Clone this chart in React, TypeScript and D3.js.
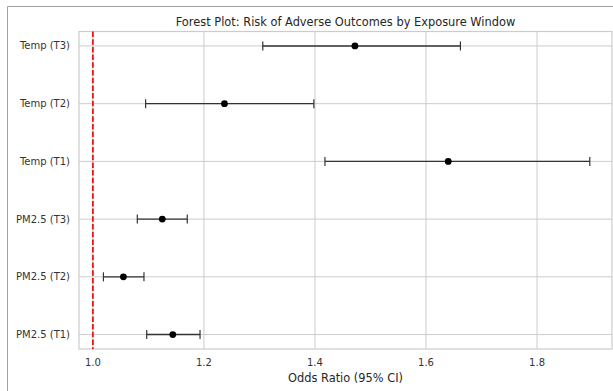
import React, { useRef, useEffect } from "react";
import * as d3 from "d3";

// categories listed top to bottom
const labels = ["Temp (T3)", "Temp (T2)", "Temp (T1)", "PM2.5 (T3)", "PM2.5 (T2)", "PM2.5 (T1)"];
const oddsRatio = [1.472, 1.237, 1.640, 1.125, 1.055, 1.144];
const ciLow = [1.306, 1.095, 1.418, 1.080, 1.019, 1.097];
const ciHigh = [1.662, 1.398, 1.895, 1.170, 1.092, 1.193];
const xTicks = [1.0, 1.2, 1.4, 1.6, 1.8];

const W = 613;
const H = 391;

export default function App() {
  const svgRef = useRef<SVGSVGElement>(null);

  useEffect(() => {
    const svg = d3.select(svgRef.current);
    svg.selectAll("*").remove();

    const font = "DejaVu Sans, sans-serif";
    const left = 79, right = 612, top = 31.5, bottom = 349;

    const x = d3.scaleLinear().domain([0.975, 1.935]).range([left, right]);
    // index 0 at top, last at bottom, with 0.25 padding like matplotlib margins
    const y = d3
      .scaleLinear()
      .domain([-0.25, labels.length - 1 + 0.25])
      .range([top, bottom]);

    svg.append("rect").attr("width", W).attr("height", H).attr("fill", "#fff");

    // outer frame
    svg
      .append("path")
      .attr("d", `M7.5,${H} V6.5 H${W}`)
      .attr("fill", "none")
      .attr("stroke", "#a0a0a0")
      .attr("stroke-width", 1);

    // grid
    svg
      .append("g")
      .selectAll("line")
      .data(xTicks)
      .join("line")
      .attr("x1", (d) => x(d))
      .attr("x2", (d) => x(d))
      .attr("y1", top)
      .attr("y2", bottom)
      .attr("stroke", "#cccccc")
      .attr("stroke-width", 1);

    svg
      .append("g")
      .selectAll("line")
      .data(labels)
      .join("line")
      .attr("x1", left)
      .attr("x2", right)
      .attr("y1", (_, i) => y(i))
      .attr("y2", (_, i) => y(i))
      .attr("stroke", "#cccccc")
      .attr("stroke-width", 1);

    // spines
    svg
      .append("rect")
      .attr("x", left)
      .attr("y", top)
      .attr("width", right - left)
      .attr("height", bottom - top)
      .attr("fill", "none")
      .attr("stroke", "#cccccc")
      .attr("stroke-width", 1.2);

    // reference line at OR = 1
    svg
      .append("line")
      .attr("x1", x(1))
      .attr("x2", x(1))
      .attr("y1", top)
      .attr("y2", bottom)
      .attr("stroke", "#ee0000")
      .attr("stroke-width", 1.6)
      .attr("stroke-dasharray", "5.5,2.2");

    // error bars
    const g = svg.append("g");
    labels.forEach((_, i) => {
      const yy = y(i);
      g.append("line")
        .attr("x1", x(ciLow[i]))
        .attr("x2", x(ciHigh[i]))
        .attr("y1", yy)
        .attr("y2", yy)
        .attr("stroke", "#333")
        .attr("stroke-width", 1.4);
      [ciLow[i], ciHigh[i]].forEach((v) => {
        g.append("line")
          .attr("x1", x(v))
          .attr("x2", x(v))
          .attr("y1", yy - 4.5)
          .attr("y2", yy + 4.5)
          .attr("stroke", "#333")
          .attr("stroke-width", 1.2);
      });
      g.append("circle").attr("cx", x(oddsRatio[i])).attr("cy", yy).attr("r", 3.4).attr("fill", "#000");
    });

    // y tick labels
    svg
      .append("g")
      .selectAll("text")
      .data(labels)
      .join("text")
      .attr("x", left - 9)
      .attr("y", (_, i) => y(i))
      .attr("dy", "0.35em")
      .attr("text-anchor", "end")
      .attr("fill", "#333")
      .attr("font-family", font)
      .attr("font-size", "10px")
      .text((d) => d);

    // x tick labels
    svg
      .append("g")
      .selectAll("text")
      .data(xTicks)
      .join("text")
      .attr("x", (d) => x(d))
      .attr("y", bottom + 17)
      .attr("text-anchor", "middle")
      .attr("fill", "#333")
      .attr("font-family", font)
      .attr("font-size", "10px")
      .text((d) => d3.format(".1f")(d));

    svg
      .append("text")
      .attr("x", (left + right) / 2)
      .attr("y", bottom + 33)
      .attr("text-anchor", "middle")
      .attr("fill", "#262626")
      .attr("font-family", font)
      .attr("font-size", "11.4px")
      .text("Odds Ratio (95% CI)");

    svg
      .append("text")
      .attr("x", (left + right) / 2)
      .attr("y", top - 6)
      .attr("text-anchor", "middle")
      .attr("fill", "#262626")
      .attr("font-family", font)
      .attr("font-size", "11.4px")
      .text("Forest Plot: Risk of Adverse Outcomes by Exposure Window");
  }, []);

  return (
    <div style={{ position: "fixed", left: 0, top: 0 }}>
      <svg ref={svgRef} width={W} height={H} style={{ display: "block" }} />
    </div>
  );
}
